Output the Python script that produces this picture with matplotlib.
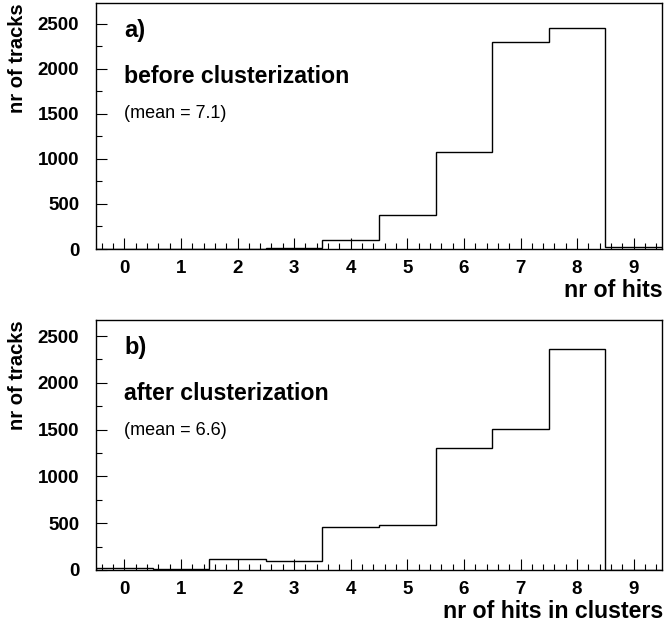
import matplotlib
matplotlib.use("Agg")
import matplotlib.pyplot as plt
from matplotlib.ticker import MultipleLocator
import numpy as np

# Track hit-multiplicity histograms (one entry per bin, centred on integers)
hit_bins = [0, 1, 2, 3, 4, 5, 6, 7, 8, 9]
tracks_before = [0, 0, 5, 15, 97, 376, 1082, 2298, 2460, 25]
tracks_after = [25, 12, 115, 97, 457, 482, 1300, 1503, 2358, 0]

panel_tags = ["a)", "b)"]
panel_titles = ["before clusterization", "after clusterization"]
panel_means = ["(mean = 7.1)", "(mean = 6.6)"]
x_titles = ["nr of hits", "nr of hits in clusters"]
y_title = "nr of tracks"
y_ticks = [0, 500, 1000, 1500, 2000, 2500]

W, H = 665, 629
plt.rcParams["font.family"] = ["Liberation Sans", "DejaVu Sans"]

fig = plt.figure(figsize=(W / 100, H / 100), dpi=100)


def fx(px):
    return px / W


def fy(py):
    return 1 - py / H


# panel geometry in pixels: (top, bottom, ymax)
panels = [(3, 249, 2733), (320, 570, 2671)]
left, right = 96, 662

edges = np.arange(len(hit_bins) + 1) - 0.5
series = [tracks_before, tracks_after]

for i, (top, bottom, ymax) in enumerate(panels):
    ax = fig.add_axes([fx(left), fy(bottom), fx(right - left), (bottom - top) / H])
    ax.stairs(series[i], edges, color="black", linewidth=1.0, baseline=0)
    ax.set_xlim(edges[0], edges[-1])
    ax.set_ylim(0, ymax)
    ax.set_xticks(hit_bins)
    ax.set_yticks(y_ticks)
    ax.xaxis.set_minor_locator(MultipleLocator(0.2))
    ax.yaxis.set_minor_locator(MultipleLocator(250))
    ax.tick_params(which="both", direction="in", top=False, right=False,
                   width=0.8, color="black")
    ax.tick_params(which="major", length=8)
    ax.tick_params(which="minor", length=4)
    ax.tick_params(axis="x", which="major", pad=8)
    ax.tick_params(axis="y", which="major", pad=12)
    for lab in ax.get_xticklabels() + ax.get_yticklabels():
        lab.set_fontweight("bold")
        lab.set_fontsize(13.5)
    for sp in ax.spines.values():
        sp.set_linewidth(1.0)

    # panel annotations
    fig.text(fx(124), fy(top + 34), panel_tags[i], fontsize=17,
             fontweight="bold", va="baseline")
    fig.text(fx(124), fy(top + 80), panel_titles[i], fontsize=16.7,
             fontweight="bold", va="baseline")
    fig.text(fx(124), fy(top + 115), panel_means[i], fontsize=13,
             va="baseline")

    # axis titles
    fig.text(fx(18), fy(top), y_title, rotation=90, fontsize=14.5,
             fontweight="bold", ha="center", va="top")
    fig.text(fx(663), fy(bottom + 48), x_titles[i], fontsize=16.7,
             fontweight="bold", ha="right", va="baseline")

fig.savefig("out.png", dpi=100)
